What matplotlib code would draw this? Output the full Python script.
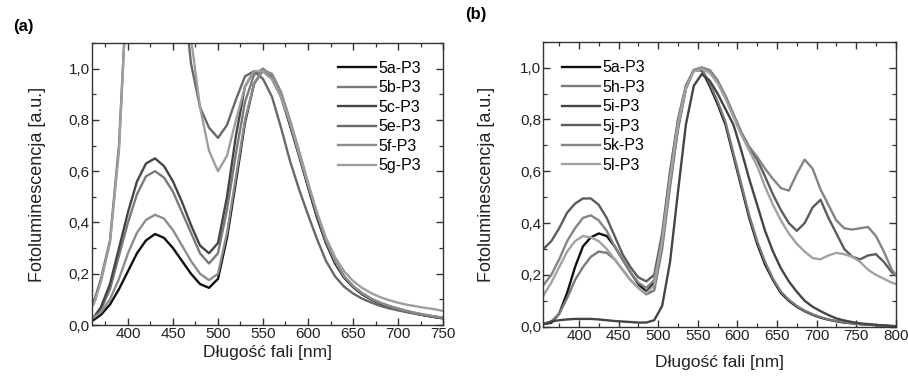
"""Photoluminescence spectra of the P3 series, panels (a) and (b)."""

import matplotlib
matplotlib.use("Agg")
import matplotlib.pyplot as plt
from matplotlib.ticker import MultipleLocator, FuncFormatter

plt.rcParams["font.family"] = ["Liberation Sans", "DejaVu Sans"]

# ---- panel (a) -------------------------------------------------------------
wl_a = [362, 370, 380, 390, 400, 410, 420, 430, 440, 450, 460, 470, 480, 490,
        500, 510, 520, 530, 540, 550, 560, 570, 580, 590, 600, 610, 620, 630,
        640, 650, 660, 670, 680, 690, 700, 710, 720, 730, 740, 750]

pl_5a = [0.02, 0.04, 0.08, 0.14, 0.21, 0.28, 0.33, 0.355, 0.34, 0.30, 0.25, 0.20,
         0.16, 0.145, 0.18, 0.34, 0.56, 0.79, 0.94, 0.995, 0.975, 0.90, 0.78, 0.665,
         0.54, 0.42, 0.32, 0.24, 0.185, 0.148, 0.12, 0.10, 0.084, 0.072, 0.062,
         0.052, 0.044, 0.037, 0.031, 0.026]
pl_5b = [0.03, 0.06, 0.14, 0.27, 0.40, 0.51, 0.58, 0.60, 0.575, 0.52, 0.44, 0.36,
         0.28, 0.24, 0.28, 0.45, 0.67, 0.87, 0.975, 1.0, 0.97, 0.90, 0.79, 0.67,
         0.55, 0.43, 0.33, 0.25, 0.19, 0.152, 0.124, 0.103, 0.087, 0.074, 0.064,
         0.054, 0.046, 0.039, 0.033, 0.028]
pl_5c = [0.03, 0.07, 0.16, 0.30, 0.44, 0.56, 0.63, 0.65, 0.62, 0.56, 0.48, 0.39,
         0.31, 0.28, 0.32, 0.50, 0.74, 0.93, 0.99, 0.99, 0.96, 0.89, 0.78, 0.66,
         0.54, 0.42, 0.32, 0.245, 0.188, 0.15, 0.122, 0.101, 0.085, 0.073, 0.063,
         0.053, 0.045, 0.038, 0.032, 0.027]
pl_5e = [0.09, 0.18, 0.33, 0.70, 1.40, 1.80, 1.90, 1.90, 1.85, 1.70, 1.35, 1.02,
         0.85, 0.77, 0.73, 0.78, 0.88, 0.97, 0.99, 0.96, 0.89, 0.77, 0.64, 0.53,
         0.43, 0.335, 0.25, 0.19, 0.15, 0.123, 0.103, 0.088, 0.075, 0.065, 0.057,
         0.05, 0.044, 0.038, 0.033, 0.028]
pl_5f = [0.03, 0.05, 0.10, 0.18, 0.28, 0.36, 0.41, 0.43, 0.415, 0.37, 0.31, 0.25,
         0.20, 0.175, 0.20, 0.36, 0.58, 0.80, 0.94, 0.995, 0.98, 0.91, 0.80, 0.68,
         0.555, 0.435, 0.33, 0.25, 0.19, 0.152, 0.124, 0.103, 0.087, 0.075, 0.064,
         0.055, 0.047, 0.04, 0.034, 0.029]
pl_5g = [0.08, 0.17, 0.32, 0.68, 1.40, 1.80, 1.90, 1.90, 1.85, 1.75, 1.45, 1.12,
         0.85, 0.68, 0.60, 0.66, 0.80, 0.93, 0.99, 0.99, 0.96, 0.89, 0.79, 0.67,
         0.55, 0.44, 0.34, 0.265, 0.21, 0.172, 0.145, 0.125, 0.109, 0.097, 0.087,
         0.079, 0.073, 0.067, 0.062, 0.055]

names_a = ["5a-P3", "5b-P3", "5c-P3", "5e-P3", "5f-P3", "5g-P3"]
series_a = [pl_5a, pl_5b, pl_5c, pl_5e, pl_5f, pl_5g]
colors_a = ["#101010", "#7a7a7a", "#454545", "#686868", "#8c8c8c", "#9e9e9e"]

# ---- panel (b) -------------------------------------------------------------
wl_b = [355, 365, 375, 385, 395, 405, 415, 425, 435, 445, 455, 465, 475, 485,
        495, 505, 515, 525, 535, 545, 555, 565, 575, 585, 595, 605, 615, 625,
        635, 645, 655, 665, 675, 685, 695, 705, 715, 725, 735, 745, 755, 765,
        775, 785, 795, 800]

pl_b5a = [0.01, 0.015, 0.05, 0.13, 0.23, 0.31, 0.345, 0.36, 0.35, 0.31, 0.26, 0.21,
          0.165, 0.135, 0.17, 0.33, 0.56, 0.77, 0.92, 0.99, 0.99, 0.93, 0.86, 0.78,
          0.66, 0.54, 0.42, 0.32, 0.24, 0.18, 0.13, 0.10, 0.077, 0.06, 0.046, 0.035,
          0.027, 0.021, 0.016, 0.013, 0.01, 0.008, 0.006, 0.004, 0.002, 0.001]
pl_b5h = [0.01, 0.02, 0.05, 0.11, 0.18, 0.23, 0.27, 0.29, 0.285, 0.26, 0.22, 0.18,
          0.15, 0.125, 0.14, 0.30, 0.54, 0.76, 0.92, 0.99, 0.995, 0.94, 0.87, 0.79,
          0.67, 0.55, 0.43, 0.33, 0.25, 0.185, 0.135, 0.104, 0.08, 0.062, 0.048,
          0.037, 0.028, 0.022, 0.017, 0.013, 0.01, 0.008, 0.006, 0.004, 0.002, 0.001]
pl_b5i = [0.01, 0.02, 0.025, 0.028, 0.03, 0.03, 0.03, 0.028, 0.025, 0.022, 0.02,
          0.018, 0.016, 0.016, 0.025, 0.08, 0.25, 0.52, 0.78, 0.93, 0.975, 0.95,
          0.90, 0.84, 0.78, 0.68, 0.57, 0.47, 0.37, 0.29, 0.225, 0.175, 0.135, 0.10,
          0.077, 0.06, 0.045, 0.032, 0.024, 0.018, 0.013, 0.01, 0.007, 0.005,
          0.003, 0.002]
pl_b5j = [0.30, 0.33, 0.38, 0.44, 0.475, 0.495, 0.495, 0.47, 0.42, 0.35, 0.28, 0.23,
          0.19, 0.175, 0.20, 0.36, 0.60, 0.80, 0.93, 0.99, 1.0, 0.99, 0.95, 0.89,
          0.82, 0.75, 0.69, 0.645, 0.58, 0.51, 0.45, 0.40, 0.37, 0.40, 0.46, 0.49,
          0.42, 0.36, 0.30, 0.27, 0.26, 0.275, 0.28, 0.25, 0.21, 0.20]
pl_b5k = [0.16, 0.20, 0.26, 0.33, 0.38, 0.42, 0.43, 0.41, 0.37, 0.31, 0.26, 0.21,
          0.17, 0.15, 0.18, 0.34, 0.58, 0.79, 0.93, 0.99, 1.0, 0.99, 0.95, 0.89,
          0.82, 0.75, 0.695, 0.655, 0.61, 0.57, 0.535, 0.525, 0.59, 0.645, 0.61,
          0.53, 0.47, 0.41, 0.38, 0.375, 0.38, 0.385, 0.35, 0.29, 0.22, 0.20]
pl_b5l = [0.12, 0.17, 0.23, 0.29, 0.33, 0.35, 0.345, 0.33, 0.30, 0.26, 0.22, 0.18,
          0.15, 0.13, 0.16, 0.33, 0.57, 0.78, 0.92, 0.985, 0.995, 0.98, 0.94, 0.88,
          0.81, 0.74, 0.68, 0.62, 0.54, 0.47, 0.41, 0.36, 0.32, 0.29, 0.265, 0.26,
          0.275, 0.285, 0.28, 0.27, 0.25, 0.22, 0.20, 0.185, 0.17, 0.165]

names_b = ["5a-P3", "5h-P3", "5i-P3", "5j-P3", "5k-P3", "5l-P3"]
series_b = [pl_b5a, pl_b5h, pl_b5i, pl_b5j, pl_b5k, pl_b5l]
colors_b = ["#101010", "#7a7a7a", "#454545", "#5c5c5c", "#848484", "#a2a2a2"]


def comma(v, _pos):
    return f"{v:.1f}".replace(".", ",")


def style_axes(ax, xlim):
    ax.set_xlim(*xlim)
    ax.set_ylim(0, 1.1)
    ax.xaxis.set_major_locator(MultipleLocator(50))
    ax.xaxis.set_minor_locator(MultipleLocator(25))
    ax.yaxis.set_major_locator(MultipleLocator(0.2))
    ax.yaxis.set_minor_locator(MultipleLocator(0.1))
    ax.yaxis.set_major_formatter(FuncFormatter(comma))
    ax.tick_params(which="both", direction="in", top=True, right=True,
                   colors="#333333", labelcolor="#222222", labelsize=11)
    ax.tick_params(which="major", length=5, width=1.0)
    ax.tick_params(which="minor", length=3, width=0.9)
    ax.tick_params(axis="x", pad=1.5)
    ax.tick_params(axis="y", pad=1.5)
    for sp in ax.spines.values():
        sp.set_color("#333333")
        sp.set_linewidth(1.0)


fig = plt.figure(figsize=(9.08, 3.83), dpi=100)
ax_a = fig.add_axes([0.1013, 0.1514, 0.3866, 0.7363])
ax_b = fig.add_axes([0.5984, 0.147, 0.3881, 0.7441])

for name, ys, c in zip(names_a, series_a, colors_a):
    ax_a.plot(wl_a, ys, color=c, lw=1.7, label=name)
for name, ys, c in zip(names_b, series_b, colors_b):
    ax_b.plot(wl_b, ys, color=c, lw=1.7, label=name)

style_axes(ax_a, (360, 750))
style_axes(ax_b, (355, 800))

for ax, xl_y, yl_x in [(ax_a, -0.097, -0.154), (ax_b, -0.127, -0.16)]:
    ax.set_xlabel("Długość fali [nm]", fontsize=12.5, color="#222222", va="center")
    ax.set_ylabel("Fotoluminescencja [a.u.]", fontsize=13, color="#222222",
                  va="center")
    ax.xaxis.set_label_coords(0.5, xl_y)
    ax.yaxis.set_label_coords(yl_x, 0.5)

leg_kw = dict(frameon=False, fontsize=11.5, handlelength=2.4, handletextpad=0.15,
              labelspacing=0.28, borderpad=0, borderaxespad=0, loc="upper left")
ax_a.legend(bbox_to_anchor=(0.70, 0.937), **leg_kw)
ax_b.legend(bbox_to_anchor=(0.053, 0.935), **leg_kw)

fig.text(23 / 908, 1 - 26 / 383, "(a)", fontsize=12, fontweight="bold",
         ha="center", va="center")
fig.text(476 / 908, 1 - 15 / 383, "(b)", fontsize=12, fontweight="bold",
         ha="center", va="center")

fig.savefig("out.png", dpi=100)
plt.close(fig)
